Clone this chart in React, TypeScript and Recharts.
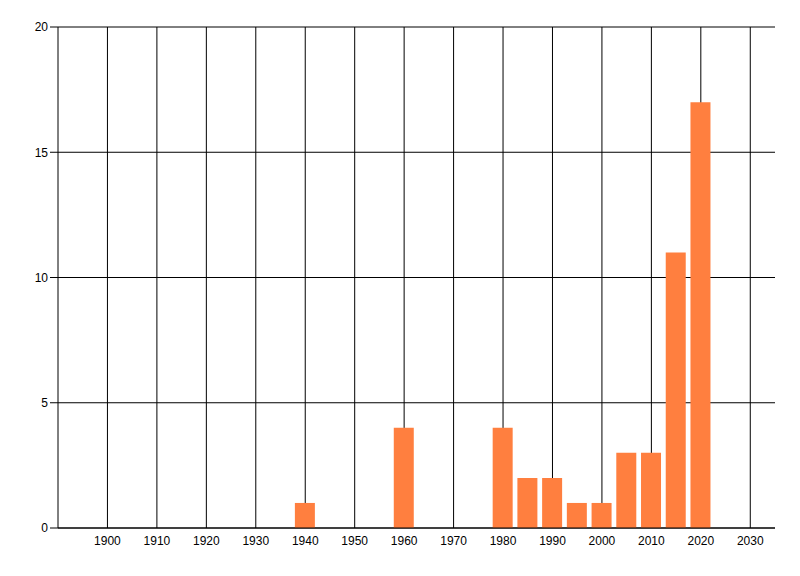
import React from 'react';
import { ComposedChart, Bar, XAxis, YAxis, CartesianGrid } from 'recharts';

// Years (bar centres) and their counts
const years = [1940, 1960, 1980, 1985, 1990, 1995, 2000, 2005, 2010, 2015, 2020];
const counts = [1, 4, 4, 2, 2, 1, 1, 3, 3, 11, 17];

const xTicks = [1900, 1910, 1920, 1930, 1940, 1950, 1960, 1970, 1980, 1990, 2000, 2010, 2020, 2030];
const yTicks = [0, 5, 10, 15, 20];

const data = years.map((year, i) => ({ year, count: counts[i] }));

const tickStyle = { fill: '#000', fontSize: 12, fontFamily: 'Liberation Sans, Arial, sans-serif' };

export default function App() {
  return (
    <div style={{ position: 'absolute', left: 0, top: 0, width: 800, height: 576, background: '#fff' }}>
      <ComposedChart
        width={800}
        height={576}
        data={data}
        margin={{ top: 27, right: 25, left: 0, bottom: 28 }}
      >
        {/* syncWithTicks: grid only on ticks, no extra line on the plot edges */}
        <CartesianGrid stroke="#000" strokeWidth={1} syncWithTicks />
        <XAxis
          dataKey="year"
          type="number"
          domain={[1890, 2035]}
          ticks={xTicks}
          allowDataOverflow
          interval={0}
          stroke="#000"
          tickLine={false}
          tick={tickStyle}
          tickMargin={2}
          height={20}
        />
        <YAxis
          type="number"
          domain={[0, 20]}
          ticks={yTicks}
          width={58}
          stroke="#000"
          tickSize={8}
          tickMargin={2}
          tick={tickStyle}
        />
        <Bar dataKey="count" fill="#FF7F3F" barSize={20} isAnimationActive={false} />
      </ComposedChart>
    </div>
  );
}
